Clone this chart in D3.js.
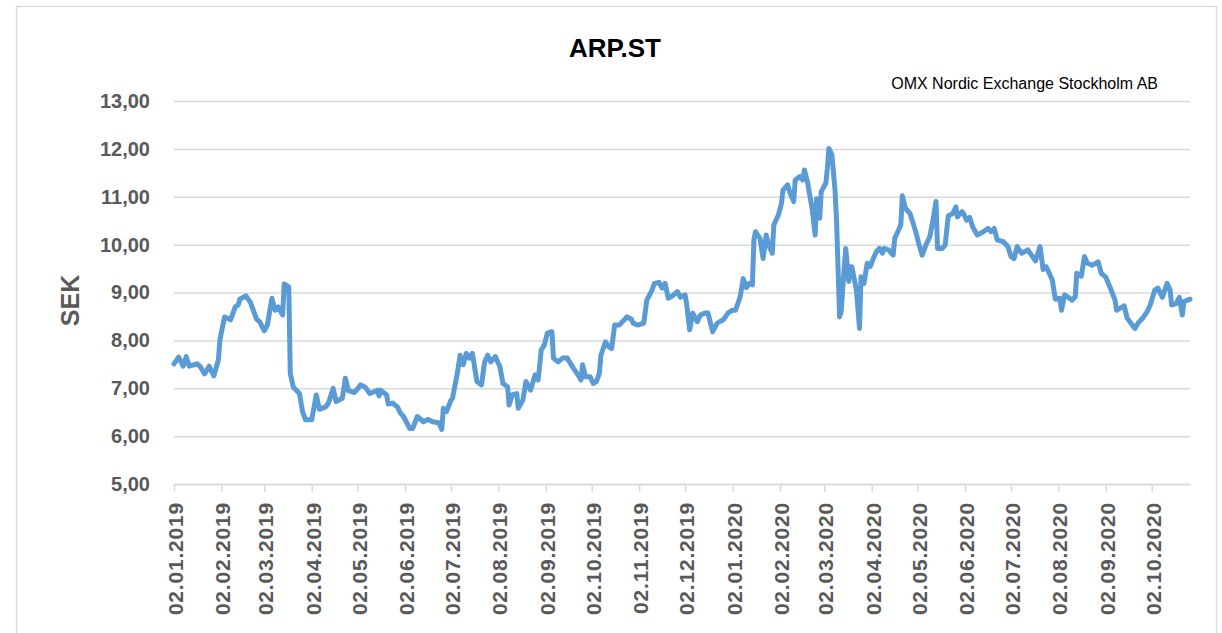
<!DOCTYPE html>
<html>
<head>
<meta charset="utf-8">
<script src="https://cdn.jsdelivr.net/npm/d3@7"></script>
<style>
  html, body { margin: 0; padding: 0; background: #ffffff; }
  svg { display: block; }
</style>
</head>
<body>
<svg id="chart" width="1222" height="633"></svg>
<script>
const title = "ARP.ST";
const subtitle = "OMX Nordic Exchange Stockholm AB";
const yLabel = "SEK";
const yTicks = [5, 6, 7, 8, 9, 10, 11, 12, 13];
const xTickDates = ["2019-01-02","2019-02-02","2019-03-02","2019-04-02","2019-05-02","2019-06-02","2019-07-02","2019-08-02","2019-09-02","2019-10-02","2019-11-02","2019-12-02","2020-01-02","2020-02-02","2020-03-02","2020-04-02","2020-05-02","2020-06-02","2020-07-02","2020-08-02","2020-09-02","2020-10-02"];
const domainDates = ["2019-01-02", "2020-10-27"];

const dates = [
"2019-01-02","2019-01-05","2019-01-08","2019-01-10","2019-01-12","2019-01-17","2019-01-19","2019-01-22","2019-01-25","2019-01-28","2019-01-31",
"2019-02-01","2019-02-04","2019-02-08","2019-02-11","2019-02-13","2019-02-14","2019-02-18","2019-02-21","2019-02-25","2019-02-27",
"2019-03-02","2019-03-04","2019-03-07","2019-03-09","2019-03-11","2019-03-14","2019-03-15","2019-03-18","2019-03-19","2019-03-21","2019-03-25","2019-03-27","2019-03-29",
"2019-04-02","2019-04-05","2019-04-07","2019-04-11","2019-04-13","2019-04-16","2019-04-18","2019-04-22","2019-04-24","2019-04-26","2019-04-30",
"2019-05-04","2019-05-07","2019-05-10","2019-05-15","2019-05-16","2019-05-17","2019-05-21","2019-05-22","2019-05-25","2019-05-28","2019-05-30",
"2019-06-01","2019-06-05","2019-06-07","2019-06-10","2019-06-14","2019-06-17","2019-06-20","2019-06-24","2019-06-26","2019-06-27","2019-06-29",
"2019-07-02","2019-07-03","2019-07-06","2019-07-08","2019-07-10","2019-07-12","2019-07-14","2019-07-16","2019-07-19","2019-07-22","2019-07-24","2019-07-26","2019-07-28","2019-07-31",
"2019-08-03","2019-08-05","2019-08-08","2019-08-09","2019-08-11","2019-08-14","2019-08-15","2019-08-18","2019-08-20","2019-08-23","2019-08-26","2019-08-28","2019-08-30",
"2019-09-01","2019-09-03","2019-09-06","2019-09-07","2019-09-10","2019-09-13","2019-09-16","2019-09-20","2019-09-23","2019-09-25","2019-09-26","2019-09-28",
"2019-10-01","2019-10-03","2019-10-05","2019-10-07","2019-10-08","2019-10-11","2019-10-13","2019-10-15","2019-10-17","2019-10-20","2019-10-25","2019-10-28","2019-10-29",
"2019-11-01","2019-11-05","2019-11-07","2019-11-10","2019-11-12","2019-11-15","2019-11-17","2019-11-19","2019-11-21","2019-11-23","2019-11-27","2019-11-29",
"2019-12-02","2019-12-03","2019-12-05","2019-12-07","2019-12-10","2019-12-12","2019-12-15","2019-12-17","2019-12-20","2019-12-23","2019-12-27","2019-12-30",
"2020-01-02","2020-01-04","2020-01-07","2020-01-09","2020-01-11","2020-01-13","2020-01-15","2020-01-16","2020-01-17","2020-01-20","2020-01-22","2020-01-24","2020-01-26","2020-01-28","2020-01-29",
"2020-02-01","2020-02-03","2020-02-04","2020-02-07","2020-02-09","2020-02-11","2020-02-12","2020-02-15","2020-02-17","2020-02-18","2020-02-20","2020-02-23","2020-02-25","2020-02-26","2020-02-28","2020-02-29",
"2020-03-03","2020-03-04","2020-03-05","2020-03-07","2020-03-09","2020-03-10","2020-03-12","2020-03-13","2020-03-15","2020-03-16","2020-03-18","2020-03-19","2020-03-20","2020-03-23","2020-03-25","2020-03-26","2020-03-28","2020-03-30",
"2020-04-01","2020-04-03","2020-04-05","2020-04-07","2020-04-09","2020-04-10","2020-04-13","2020-04-16","2020-04-17","2020-04-19","2020-04-21","2020-04-22","2020-04-24","2020-04-27","2020-04-29",
"2020-05-01","2020-05-03","2020-05-05","2020-05-07","2020-05-10","2020-05-12","2020-05-14","2020-05-15","2020-05-18","2020-05-20","2020-05-22","2020-05-25","2020-05-27","2020-05-28","2020-05-31",
"2020-06-01","2020-06-03","2020-06-05","2020-06-07","2020-06-10","2020-06-14","2020-06-17","2020-06-19","2020-06-21","2020-06-23","2020-06-27","2020-06-30",
"2020-07-02","2020-07-04","2020-07-06","2020-07-09","2020-07-13","2020-07-18","2020-07-21","2020-07-23","2020-07-25","2020-07-29","2020-07-31",
"2020-08-03","2020-08-04","2020-08-06","2020-08-08","2020-08-11","2020-08-13","2020-08-14","2020-08-17","2020-08-19","2020-08-21","2020-08-24","2020-08-28","2020-08-30",
"2020-09-02","2020-09-05","2020-09-08","2020-09-09","2020-09-14","2020-09-16","2020-09-21","2020-09-23","2020-09-26","2020-09-29",
"2020-10-01","2020-10-04","2020-10-06","2020-10-09","2020-10-12","2020-10-14","2020-10-15","2020-10-18","2020-10-20","2020-10-22","2020-10-23","2020-10-27"
];

const prices = [
7.51,7.65,7.46,7.66,7.46,7.51,7.46,7.30,7.46,7.26,7.59,
8.01,8.49,8.43,8.70,8.74,8.86,8.93,8.79,8.44,8.39,
8.20,8.32,8.88,8.63,8.70,8.53,9.18,9.12,7.31,7.02,6.89,6.51,6.34,
6.34,6.86,6.56,6.61,6.69,7.00,6.72,6.79,7.21,6.95,6.91,
7.07,7.02,6.89,6.96,6.84,6.96,6.86,6.67,6.69,6.61,6.48,
6.41,6.16,6.16,6.41,6.30,6.35,6.30,6.28,6.14,6.58,6.51,
6.75,6.79,7.28,7.69,7.49,7.73,7.63,7.73,7.14,7.07,7.55,7.69,7.55,7.66,
7.45,7.10,7.03,6.65,6.86,6.89,6.58,6.75,7.14,6.96,7.28,7.17,7.80,
7.90,8.15,8.18,7.63,7.55,7.63,7.63,7.42,7.28,7.17,7.49,7.24,
7.24,7.10,7.14,7.31,7.69,7.97,7.87,7.83,8.32,8.32,8.49,8.44,8.36,
8.32,8.36,8.84,9.02,9.19,9.21,9.09,9.19,8.88,8.91,9.02,8.90,
8.95,8.77,8.22,8.57,8.39,8.53,8.57,8.57,8.18,8.36,8.43,8.57,
8.63,8.63,8.91,9.29,9.10,9.19,9.16,10.10,10.27,10.13,9.71,10.20,9.96,9.82,10.41,
10.62,10.86,11.14,11.25,11.04,10.90,11.35,11.42,11.35,11.56,11.31,10.76,10.20,10.96,10.55,11.11,
11.28,11.59,12.01,11.87,11.14,10.51,8.49,8.60,9.51,9.92,9.23,9.54,9.54,9.05,8.25,9.33,9.19,9.61,
9.54,9.71,9.85,9.92,9.82,9.92,9.89,9.78,10.13,10.27,10.41,11.02,10.76,10.65,10.45,
10.24,9.99,9.78,9.96,10.17,10.51,10.90,9.92,9.92,9.99,10.60,10.65,10.79,10.58,10.69,
10.65,10.51,10.57,10.37,10.20,10.27,10.34,10.27,10.34,10.10,10.06,9.96,
9.75,9.71,9.96,9.82,9.89,9.66,9.96,9.48,9.54,9.26,8.86,
8.88,8.63,8.95,8.91,8.84,8.91,9.40,9.34,9.75,9.61,9.57,9.64,9.40,
9.32,9.09,8.84,8.63,8.72,8.46,8.25,8.36,8.46,8.60,
8.74,9.05,9.09,8.90,9.19,9.05,8.74,8.77,8.90,8.53,8.81,8.86
];

const parse = d3.timeParse("%Y-%m-%d");
const fmtTick = d3.timeFormat("%d.%m.%Y");
const fmtNum = v => d3.format(".2f")(v).replace(".", ",");

const data = dates.map((d, i) => ({ date: parse(d), value: prices[i] }));

const svg = d3.select("#chart");
const plot = { left: 174, right: 1190, top: 101, bottom: 484 };

// outer border
svg.append("rect")
  .attr("x", 16.5).attr("y", 6.5)
  .attr("width", 1200).attr("height", 640)
  .attr("fill", "#ffffff")
  .attr("stroke", "#d9d9d9").attr("stroke-width", 1.3);

const x = d3.scaleTime()
  .domain(domainDates.map(parse))
  .range([plot.left, plot.right]);
const y = d3.scaleLinear()
  .domain([5, 13])
  .range([plot.bottom, plot.top]);

// gridlines + y labels
const yAxis = d3.axisLeft(y)
  .tickValues(yTicks)
  .tickSize(-(plot.right - plot.left))
  .tickPadding(24)
  .tickFormat(fmtNum);
const gy = svg.append("g")
  .attr("transform", `translate(${plot.left},0)`)
  .call(yAxis);
gy.select(".domain").remove();
gy.selectAll(".tick line").attr("stroke", "#d9d9d9").attr("stroke-width", 1.5);
gy.selectAll(".tick text")
  .attr("fill", "#595959")
  .style("font-family", "'Liberation Sans', Arial, sans-serif")
  .style("font-size", "20px")
  .style("font-weight", "bold");

// x axis
const xAxis = d3.axisBottom(x)
  .tickValues(xTickDates.map(parse))
  .tickSize(8)
  .tickSizeOuter(0)
  .tickFormat(fmtTick);
const gx = svg.append("g")
  .attr("transform", `translate(0,${plot.bottom})`)
  .call(xAxis);
gx.select(".domain").attr("stroke", "#d9d9d9").attr("stroke-width", 1.5);
gx.selectAll(".tick line").attr("stroke", "#d9d9d9").attr("stroke-width", 1.5);
gx.selectAll(".tick text")
  .attr("fill", "#595959")
  .style("font-family", "'Liberation Sans', Arial, sans-serif")
  .style("font-size", "21px")
  .style("font-weight", "bold")
  .style("letter-spacing", "0.8px")
  .attr("text-anchor", "end")
  .attr("dominant-baseline", "central")
  .attr("transform", "rotate(-90)")
  .attr("x", -18)
  .attr("y", 0)
  .attr("dy", "0.05em");

// line
const line = d3.line()
  .x(d => x(d.date))
  .y(d => y(d.value))
  .curve(d3.curveLinear);
svg.append("path")
  .datum(data)
  .attr("d", line)
  .attr("fill", "none")
  .attr("stroke", "#5b9bd5")
  .attr("stroke-width", 5)
  .attr("stroke-linejoin", "round")
  .attr("stroke-linecap", "round");

// title
svg.append("text")
  .attr("x", 615).attr("y", 57)
  .attr("text-anchor", "middle")
  .style("font-family", "'Liberation Sans', Arial, sans-serif")
  .style("font-size", "26px")
  .style("font-weight", "bold")
  .attr("fill", "#000000")
  .text(title);

// subtitle
svg.append("text")
  .attr("x", 1158).attr("y", 89)
  .attr("text-anchor", "end")
  .style("font-family", "'Liberation Sans', Arial, sans-serif")
  .style("font-size", "16px")
  .attr("fill", "#000000")
  .text(subtitle);

// y axis title
svg.append("text")
  .attr("transform", `translate(79,${(plot.top + plot.bottom) / 2 + 8}) rotate(-90)`)
  .attr("text-anchor", "middle")
  .style("font-family", "'Liberation Sans', Arial, sans-serif")
  .style("font-size", "25px")
  .style("font-weight", "bold")
  .attr("fill", "#595959")
  .text(yLabel);
</script>
</body>
</html>
